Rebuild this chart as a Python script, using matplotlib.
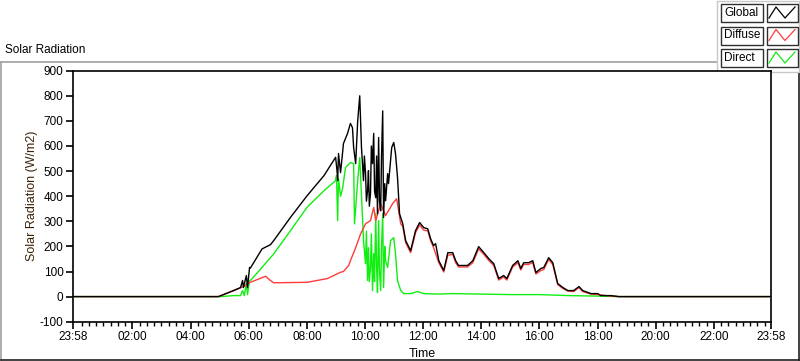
import matplotlib
matplotlib.use("Agg")
import matplotlib.pyplot as plt
from matplotlib.patches import Rectangle
from matplotlib.lines import Line2D
import numpy as np

plt.rcParams['font.family'] = ['Liberation Sans', 'DejaVu Sans']

# ---------------- data (time in hours, value in W/m2) ----------------
global_t = [-0.033, 4.96, 5.48, 5.72, 5.79, 5.82, 5.92, 5.96, 6.03, 6.06, 6.46, 6.75, 6.86,
            7.44, 8.01, 8.59, 8.99, 9.04, 9.06, 9.09, 9.16, 9.23, 9.26, 9.40, 9.50, 9.57, 9.61,
            9.68, 9.75, 9.82, 9.88, 9.95, 9.98, 10.02, 10.05, 10.09, 10.12, 10.15, 10.19, 10.22,
            10.26, 10.30, 10.33, 10.37, 10.40, 10.43, 10.47, 10.50, 10.54, 10.57, 10.61, 10.64,
            10.68, 10.71, 10.78, 10.81, 10.92, 10.99, 11.05, 11.12,
            11.19, 11.30, 11.40, 11.57, 11.74, 11.88, 12.02, 12.16, 12.26, 12.36, 12.43, 12.54,
            12.71, 12.85, 12.95, 13.02, 13.12, 13.22, 13.53, 13.71, 13.91, 14.09, 14.26, 14.43,
            14.60, 14.77, 14.88, 15.08, 15.26, 15.36, 15.46, 15.63, 15.77, 15.88, 16.05, 16.15,
            16.32, 16.46, 16.63, 16.81, 16.98, 17.18, 17.36, 17.49, 17.77, 18.01, 18.11, 18.46,
            18.73, 23.967]
global_v = [0, 0, 24, 36, 64, 36, 84, 36, 116, 114, 190, 207, 223,
            316, 402, 482, 555, 500, 462, 570, 494, 574, 610, 650, 690, 673, 594,
            530, 700, 800, 594, 462, 560, 490, 380, 422, 502, 360, 410, 600,
            530, 650, 420, 394, 560, 330, 634, 380, 342, 560, 740, 315,
            450, 382, 490, 450, 594, 614, 570, 474,
            330, 290, 223, 183, 263, 295, 275, 270, 230, 203, 211, 143,
            104, 175, 175, 175, 143, 124, 124, 143, 199, 175, 151, 131,
            72, 84, 72, 124, 143, 112, 135, 135, 143, 96, 112, 116,
            155, 135, 52, 36, 24, 24, 40, 24, 12, 12, 4, 4,
            0, 0]

diffuse_t = [-0.033, 4.96, 5.48, 5.82, 6.06, 6.58, 6.75, 6.86, 8.02, 8.71, 9.16, 9.26,
             9.44, 9.50, 9.68, 9.85, 10.02, 10.19, 10.30, 10.37, 10.54, 10.71, 10.95, 11.09,
             11.23, 11.30, 11.40, 11.57, 11.74, 11.88, 12.02, 12.16, 12.26, 12.36, 12.54, 12.71,
             12.85, 13.02, 13.12, 13.22, 13.53, 13.71, 13.91, 14.09, 14.26, 14.43, 14.60, 14.77,
             14.88, 15.08, 15.26, 15.36, 15.46, 15.63, 15.77, 15.88, 16.05, 16.15, 16.32, 16.46,
             16.63, 16.81, 16.98, 17.18, 17.36, 17.49, 17.77, 18.01, 18.46, 18.73, 23.967]
diffuse_v = [0, 0, 24, 40, 57, 81, 64, 55, 57, 72, 97, 100,
             124, 143, 195, 250, 290, 303, 355, 303, 370, 323, 370, 390,
             290, 280, 215, 175, 255, 285, 265, 262, 222, 195, 135, 98,
             165, 168, 135, 118, 118, 135, 190, 168, 144, 124, 66, 78,
             66, 118, 135, 106, 128, 128, 136, 90, 104, 108, 148, 128,
             48, 32, 22, 20, 36, 20, 10, 8, 2, 0, 0]

direct_t = [-0.033, 5.03, 5.48, 5.72, 5.79, 5.85, 5.92, 5.96, 6.03, 6.06, 6.41, 6.86, 7.44, 8.01,
            8.59, 8.99, 9.02, 9.06, 9.09, 9.16, 9.23, 9.33, 9.50, 9.61, 9.64, 9.75, 9.82, 9.92,
            9.95, 10.02, 10.05, 10.09, 10.12, 10.15, 10.19, 10.22, 10.26, 10.30, 10.33, 10.37,
            10.40, 10.43, 10.47, 10.50, 10.54, 10.57, 10.61, 10.64, 10.68, 10.71, 10.78, 10.88,
            10.99, 11.05, 11.12, 11.23, 11.33, 11.57, 11.81, 12.02, 12.5,
            13.0, 14.0, 15.0, 16.0, 17.0, 18.0, 18.73, 23.967]
direct_v = [0, 0, 4, 4, 24, 4, 52, 8, 64, 64, 110, 170, 263, 356,
            422, 462, 482, 303, 470, 400, 430, 514, 534, 530, 290, 462, 554, 303,
            223, 131, 260, 64, 195, 60, 116, 250, 24, 171, 60, 330,
            120, 16, 303, 100, 24, 200, 330, 36, 200, 143, 116, 223,
            235, 171, 64, 24, 12, 12, 20, 12, 10,
            12, 10, 8, 8, 4, 2, 0, 0]

y_ticks = [-100, 0, 100, 200, 300, 400, 500, 600, 700, 800, 900]
x_ticks = [-0.033, 2, 4, 6, 8, 10, 12, 14, 16, 18, 20, 22, 23.967]
x_labels = ["23:58", "02:00", "04:00", "06:00", "08:00", "10:00", "12:00",
            "14:00", "16:00", "18:00", "20:00", "22:00", "23:58"]
legend_names = ["Global", "Diffuse", "Direct"]
colors = ["#000000", "#ff3b3b", "#11ee11"]

# ---------------- figure ----------------
W, H = 800, 361
fig = plt.figure(figsize=(W / 100, H / 100), dpi=100)
fig.patch.set_facecolor("white")

# overlay in pixel coordinates for frame/legend decorations
ov = fig.add_axes([0, 0, 1, 1], zorder=-1)
ov.set_xlim(0, W)
ov.set_ylim(H, 0)
ov.axis("off")

ax = fig.add_axes([73.3 / W, 1 - 321.7 / H, (771 - 73.3) / W, (321.7 - 70.7) / H])
ax.plot(direct_t, direct_v, color=colors[2], lw=1.0, zorder=2)
ax.plot(diffuse_t, diffuse_v, color=colors[1], lw=1.0, zorder=3)
ax.plot(global_t, global_v, color=colors[0], lw=1.0, zorder=4)

ax.set_xlim(-0.033, 23.967)
ax.set_ylim(-100, 900)
ax.set_yticks(y_ticks)
ax.set_yticklabels([str(v) for v in y_ticks])
ax.set_xticks(x_ticks)
ax.set_xticklabels(x_labels)
ax.set_xticks(np.arange(0.25, 23.9, 0.25), minor=True)
ax.tick_params(axis="both", which="major", direction="out", length=5, width=1.2,
               labelsize=8.5, pad=2, colors="black")
ax.tick_params(axis="x", which="minor", direction="out", length=3, width=1.0)
for s in ax.spines.values():
    s.set_linewidth(1.2)
    s.set_color("black")
ax.set_facecolor("white")

ax.set_xlabel("Time", fontsize=9, labelpad=3)
ax.set_ylabel("Solar Radiation (W/m2)", fontsize=9, color="#3a2208", labelpad=1)

# outer frame
ov.plot([0.5, 717], [61.5, 61.5], color="#a0a0a0", lw=1.2)
ov.plot([0.5, 0.5], [61.5, 360], color="#a0a0a0", lw=1.2)
ov.plot([0.5, 799.5], [359.7, 359.7], color="#202020", lw=1.2)
ov.plot([799.3, 799.3], [72, 360], color="#202020", lw=1.2)

fig.text(5 / W, 1 - 50 / H, "Solar Radiation", fontsize=8.5, ha="left", va="center")

# legend
ov.add_patch(Rectangle((717, 1), 82, 71, facecolor="white", edgecolor="#c8c8c8", lw=1.0, zorder=5))
for i, name in enumerate(legend_names):
    y0 = 4 + i * 22.5
    ov.add_patch(Rectangle((721, y0), 42, 18, facecolor="white", edgecolor="#303030", lw=1.0, zorder=6))
    ov.add_patch(Rectangle((767, y0), 31, 18, facecolor="white", edgecolor="#303030", lw=1.0, zorder=6))
    ov.text(724, y0 + 9, name, fontsize=8.5, ha="left", va="center", zorder=7)
    ov.add_line(Line2D([769, 776, 785, 795], [y0 + 14, y0 + 3, y0 + 14, y0 + 3],
                       color=colors[i], lw=0.9, zorder=7))

fig.savefig("out.png", dpi=100)
